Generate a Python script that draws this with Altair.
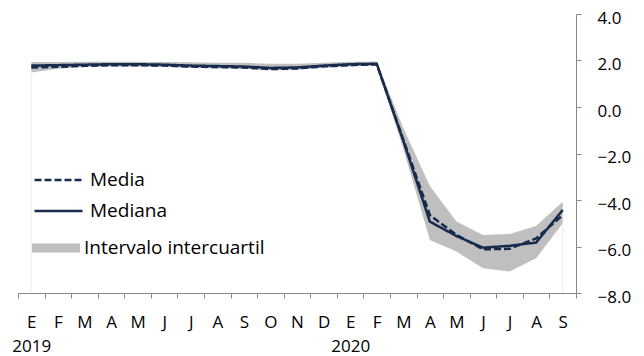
import altair as alt
import pandas as pd

# ---- data ----
months = ["E", "F", "M", "A", "M", "J", "J", "A", "S", "O", "N", "D",
          "E", "F", "M", "A", "M", "J", "J", "A", "S"]
years = {0: "2019", 12: "2020"}

mediana = [1.78, 1.80, 1.82, 1.84, 1.84, 1.82, 1.78, 1.76, 1.74, 1.68, 1.70, 1.78,
           1.84, 1.86, -1.45, -4.93, -5.55, -6.05, -5.97, -5.83, -4.43]
media = [1.70, 1.73, 1.77, 1.80, 1.80, 1.78, 1.74, 1.72, 1.70, 1.63, 1.66, 1.75,
         1.80, 1.84, -1.40, -4.65, -5.50, -6.12, -6.10, -5.65, -4.65]
q_low = [1.48, 1.65, 1.72, 1.74, 1.74, 1.72, 1.68, 1.66, 1.64, 1.58, 1.60, 1.68,
         1.74, 1.78, -1.80, -5.72, -6.22, -6.94, -7.08, -6.51, -5.00]
q_high = [1.94, 1.94, 1.95, 1.95, 1.95, 1.94, 1.92, 1.90, 1.90, 1.86, 1.86, 1.90,
          1.95, 1.96, -0.90, -3.40, -4.93, -5.50, -5.46, -5.12, -4.07]

line_names = ["Media", "Mediana"]
band_name = "Intervalo intercuartil"
y_ticks = [-8, -6, -4, -2, 0, 2, 4]

navy = "#172B4D"
band_gray = "#BFBFBF"
axis_gray = "#888888"
font = "Open Sans"

idx = list(range(len(months)))
band_df = pd.DataFrame({"i": idx, "low": q_low, "high": q_high,
                        "banda": [band_name] * len(idx)})
lines_df = pd.DataFrame({
    "i": idx * 2,
    "valor": media + mediana,
    "serie": [line_names[0]] * len(idx) + [line_names[1]] * len(idx),
})
edges_df = band_df.iloc[[0, len(idx) - 1]]

# x axis: ticks at band boundaries, labels shifted to band centres
tick_vals = [k - 0.5 for k in range(len(months) + 1)]
month_js = "[" + ",".join("'" + m + "'" for m in months) + "]"
year_cond = ""
for k, yv in years.items():
    year_cond += f"abs(datum.value - ({k} - 0.5)) < 0.01 ? ['{months[k]}', '{yv}'] : "
label_expr = (f"datum.value > {len(months) - 1} ? '' : " + year_cond +
              f"{month_js}[round(datum.value + 0.5)]")

x_scale = alt.Scale(domain=[-0.5, len(months) - 0.5], nice=False, zero=False)
y_scale = alt.Scale(domain=[-8, 4], nice=False, zero=False)

x_axis = alt.Axis(
    values=tick_vals, labelExpr=label_expr, title=None, grid=False,
    domainColor=axis_gray, tickColor=axis_gray, tickSize=5,
    labelOffset=13.3, labelPadding=16, labelFlush=False, labelOverlap=False,
    labelBound=False, labelFont=font, labelFontSize=17, labelColor="#000000",
    labelLineHeight=24, labelBaseline="top")
y_axis = alt.Axis(values=y_ticks, format=".1f", orient="right", title=None,
                  grid=False, domainColor=axis_gray, tickColor=axis_gray,
                  tickSize=5, labelPadding=16, labelOffset=4, labelFont=font,
                  labelFontSize=17, labelColor="#000000")

band = alt.Chart(band_df).mark_area(opacity=1).encode(
    x=alt.X("i:Q", scale=x_scale, axis=x_axis),
    y=alt.Y("low:Q", scale=y_scale, axis=y_axis),
    y2="high:Q",
    fill=alt.Fill("banda:N", scale=alt.Scale(domain=[band_name], range=[band_gray]),
                  legend=alt.Legend(
                      title=None, orient="none", legendX=14, legendY=224,
                      symbolType="M-1,-0.19H1V0.19H-1Z", symbolSize=2304,
                      clipHeight=20, symbolStrokeWidth=0, symbolOpacity=1,
                      labelFont=font, labelFontSize=19, labelColor="#000000",
                      labelOffset=4, padding=0, labelLimit=0)),
)

edges = alt.Chart(edges_df).mark_rule(color="#EDEDED", strokeWidth=1).encode(
    x=alt.X("i:Q", scale=x_scale, axis=x_axis),
    y=alt.Y("low:Q", scale=y_scale, axis=y_axis),
    y2=alt.datum(-8),
)

lines = alt.Chart(lines_df).mark_line(strokeCap="butt", strokeWidth=2.5).encode(
    x=alt.X("i:Q", scale=x_scale, axis=x_axis),
    y=alt.Y("valor:Q", scale=y_scale, axis=y_axis),
    color=alt.Color("serie:N", scale=alt.Scale(domain=line_names, range=[navy, navy]),
                    legend=alt.Legend(
                        title=None, orient="none", legendX=15, legendY=156,
                        symbolType="stroke", symbolSize=2304, clipHeight=20,
                        rowPadding=11, symbolStrokeWidth=2.5,
                        labelFont=font, labelFontSize=19, labelColor="#000000",
                        labelOffset=6, padding=0, labelLimit=0)),
    strokeDash=alt.StrokeDash("serie:N", scale=alt.Scale(
        domain=line_names, range=[[7, 3], [1, 0]])),
    order=alt.Order("serie:N", sort="descending"),
)

chart = alt.layer(band, edges, lines).properties(
    width=558, height=279,
    autosize=alt.AutoSizeParams(type="none"),
    padding={"left": 10, "top": 6, "right": 60, "bottom": 62},
).configure_view(stroke=None).configure_axis(domainWidth=1, tickWidth=1)

chart.save("out.html", embed_options={"renderer": "svg", "actions": False})
